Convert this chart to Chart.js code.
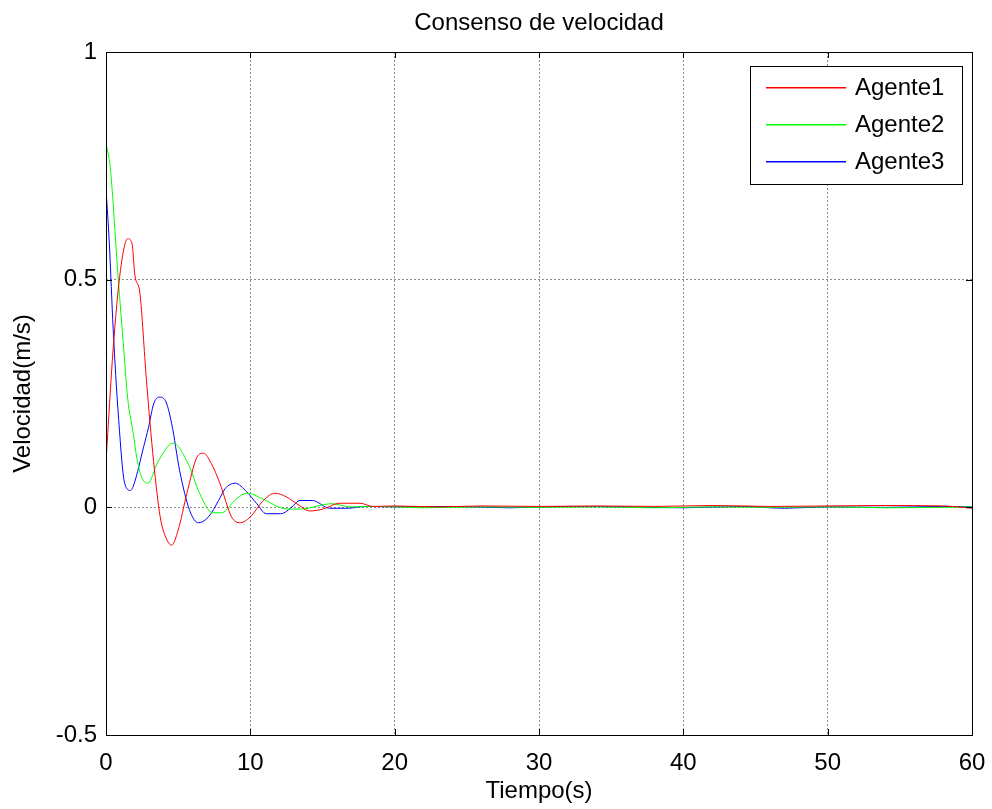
<!DOCTYPE html>
<html>
<head>
<meta charset="utf-8">
<script src="https://cdn.jsdelivr.net/npm/chart.js@4/dist/chart.umd.min.js"></script>
<style>
    html, body { margin: 0; padding: 0; background: #fff; }
    #wrap { width: 992px; height: 809px; }
</style>
</head>
<body>
<div id="wrap"><canvas id="chart" width="992" height="809"></canvas></div>
<script>
// Velocity consensus data
const agente1T = [0, 0.5, 1.0, 1.5, 1.8, 2.0, 2.35, 2.8, 3.3, 3.75, 4.2, 4.55, 5.0, 5.6, 6.3, 6.75, 7.3, 7.9, 8.7, 9.3, 10.0, 10.9, 11.7, 12.5, 13.4, 14.1, 15.0, 16.2, 17.6, 18.5, 20, 23, 26, 30, 34, 38, 42, 46, 50, 54, 58, 60];
const agente1V = [0.10, 0.35, 0.52, 0.59, 0.58, 0.51, 0.47, 0.28, 0.10, -0.02, -0.07, -0.083, -0.05, 0.03, 0.11, 0.119, 0.096, 0.052, -0.021, -0.034, -0.021, 0.015, 0.031, 0.023, 0.004, -0.008, -0.004, 0.009, 0.009, 0.002, 0.003, 0.001, 0.003, 0.002, 0.003, 0.002, 0.004, 0.002, 0.003, 0.004, 0.003, -0.002];

const agente2T = [0, 0.3, 0.85, 1.2, 1.5, 1.9, 2.1, 2.45, 2.9, 3.6, 4.65, 5.8, 6.4, 7.4, 8.0, 9.05, 9.75, 11.1, 12.2, 13.5, 15.6, 17, 19, 22, 26, 30, 34, 38, 42, 46, 50, 54, 58, 60];
const agente2V = [0.80, 0.745, 0.50, 0.36, 0.24, 0.16, 0.115, 0.068, 0.053, 0.10, 0.141, 0.088, 0.037, -0.012, -0.012, 0.019, 0.031, 0.015, -0.002, -0.004, 0.008, 0.001, 0.002, -0.001, 0.001, 0.000, 0.001, -0.001, 0.001, 0.000, 0.001, -0.001, 0.000, 0.001];

const agente3T = [0, 0.23, 0.5, 0.85, 1.3, 1.7, 1.95, 2.6, 2.95, 3.3, 3.7, 4.1, 4.55, 5.1, 5.8, 6.4, 7.1, 7.8, 8.25, 8.95, 9.75, 10.45, 11.1, 12.1, 13.0, 13.4, 14.3, 15.5, 16.7, 18, 20, 24, 28, 32, 36, 40, 44, 47, 50, 54, 58, 60];
const agente3V = [0.70, 0.58, 0.39, 0.205, 0.052, 0.037, 0.052, 0.132, 0.176, 0.227, 0.242, 0.235, 0.184, 0.081, -0.007, -0.034, -0.021, 0.015, 0.041, 0.053, 0.034, 0.008, -0.014, -0.014, 0.004, 0.015, 0.015, -0.002, -0.002, 0.002, 0.001, 0.002, -0.001, 0.002, 0.001, -0.001, 0.002, -0.002, 0.001, 0.000, 0.002, 0.001];

const seriesLabels = ['Agente1', 'Agente2', 'Agente3'];
const seriesColors = ['#ff0000', '#00ff00', '#0000ff'];
const xTicks = [0, 10, 20, 30, 40, 50, 60];
const yTicks = [-0.5, 0, 0.5, 1];

const FONT = 'Liberation Sans, Arial, sans-serif';

function toPoints(ts, vs) {
    return ts.map((t, i) => ({ x: t, y: vs[i] }));
}

// MATLAB-style box with inward ticks, legend box and title
const matlabFrame = {
    id: 'matlabFrame',
    afterDraw(chart) {
        const ctx = chart.ctx;
        const a = chart.chartArea;
        const xs = chart.scales.x;
        const ys = chart.scales.y;
        ctx.save();
        ctx.setLineDash([]);
        ctx.strokeStyle = '#000';
        ctx.lineWidth = 1;
        ctx.strokeRect(Math.round(a.left) + 0.5, Math.round(a.top) + 0.5, Math.round(a.right - a.left), Math.round(a.bottom - a.top));
        const tl = 6;
        ctx.beginPath();
        xTicks.forEach(v => {
            const px = Math.round(xs.getPixelForValue(v)) + 0.5;
            ctx.moveTo(px, a.bottom); ctx.lineTo(px, a.bottom - tl);
            ctx.moveTo(px, a.top); ctx.lineTo(px, a.top + tl);
        });
        yTicks.forEach(v => {
            const py = Math.round(ys.getPixelForValue(v)) + 0.5;
            ctx.moveTo(a.left, py); ctx.lineTo(a.left + tl, py);
            ctx.moveTo(a.right, py); ctx.lineTo(a.right - tl, py);
        });
        ctx.stroke();

        // title
        ctx.fillStyle = '#000';
        ctx.font = '24px ' + FONT;
        ctx.textAlign = 'center';
        ctx.textBaseline = 'middle';
        ctx.fillText('Consenso de velocidad', (a.left + a.right) / 2, 23);

        // legend
        const lx = 750, ly = 66, lw = 212, lh = 118;
        ctx.fillStyle = '#fff';
        ctx.fillRect(lx, ly, lw, lh);
        ctx.strokeStyle = '#000';
        ctx.strokeRect(lx + 0.5, ly + 0.5, lw, lh);
        ctx.textAlign = 'left';
        const rows = [87, 124, 161];
        for (let i = 0; i < seriesLabels.length; i++) {
            ctx.fillStyle = seriesColors[i];
            ctx.fillRect(766, rows[i], 80, 1.5);
            ctx.fillStyle = '#000';
            ctx.fillText(seriesLabels[i], 855, rows[i] + 1);
        }
        ctx.restore();
    }
};

const seriesData = [
    toPoints(agente1T, agente1V),
    toPoints(agente2T, agente2V),
    toPoints(agente3T, agente3V)
];

new Chart(document.getElementById('chart'), {
    type: 'line',
    data: {
        datasets: seriesData.map((pts, i) => ({
            label: seriesLabels[i],
            data: pts,
            borderColor: seriesColors[i],
            borderWidth: 1,
            pointRadius: 0,
            fill: false,
            cubicInterpolationMode: 'monotone'
        }))
    },
    options: {
        responsive: false,
        animation: false,
        layout: { padding: { top: 52, right: 20, left: 0, bottom: 0 } },
        plugins: {
            legend: { display: false },
            tooltip: { enabled: false },
            title: { display: false }
        },
        scales: {
            x: {
                type: 'linear',
                min: 0, max: 60,
                afterFit: s => { s.height = 74; s.paddingRight = 0; },
                ticks: { stepSize: 10, color: '#000', font: { family: FONT, size: 24 }, padding: 14, maxRotation: 0 },
                grid: { color: '#8c8c8c', drawTicks: false, lineWidth: 1 },
                border: { display: false, dash: [2, 2] },
                title: { display: true, text: 'Tiempo(s)', color: '#000', font: { family: FONT, size: 24 }, padding: { top: 0, bottom: 3 } }
            },
            y: {
                min: -0.5, max: 1,
                afterFit: s => { s.width = 106; },
                ticks: { stepSize: 0.5, color: '#000', font: { family: FONT, size: 24 }, padding: 9, callback: v => String(v) },
                grid: { color: '#8c8c8c', drawTicks: false, lineWidth: 1 },
                border: { display: false, dash: [2, 2] },
                title: { display: true, text: 'Velocidad(m/s)', color: '#000', font: { family: FONT, size: 24 }, padding: { top: 9, bottom: 0 } }
            }
        }
    },
    plugins: [matlabFrame]
});
</script>
</body>
</html>
